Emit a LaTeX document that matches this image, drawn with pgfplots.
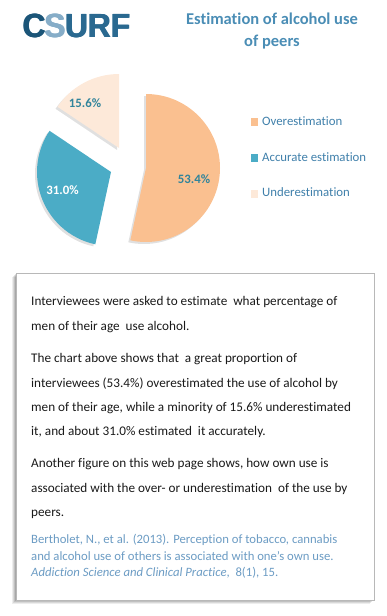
\documentclass[border=0pt]{standalone}
\usepackage{pgfplots}
\pgfplotsset{compat=1.18}
\usepackage{fontspec}
\setmainfont{Carlito}[Ligatures={NoCommon}]
\newfontfamily\logofont{Liberation Sans}
\definecolor{over}{HTML}{FAC090}
\definecolor{acc}{HTML}{4BACC6}
\definecolor{under}{HTML}{FDE9D9}
\definecolor{titlec}{HTML}{4A8DB5}
\definecolor{legc}{HTML}{3F7FAA}
\definecolor{labc}{HTML}{31849B}
\definecolor{citec}{HTML}{6C9CC4}
\definecolor{txt}{HTML}{1A1A1A}
\definecolor{logoA}{HTML}{1B5578}
\definecolor{logoS}{HTML}{86ADC8}
\definecolor{logoB}{HTML}{2A6990}
% pie values (percent)
\def\vOver{53.4}\def\vAcc{31.0}\def\vUnder{15.6}
\pgfmathsetmacro\aA{90-3.6*\vOver}
\pgfmathsetmacro\aB{\aA-3.6*\vAcc}
\pgfmathsetmacro\aC{\aB-3.6*\vUnder}
\newcommand\pieslice[5]{%
  \fill[black,opacity=0.12] ([shift={(-2pt,-2pt)}]axis cs:#1,#2) -- ++(#3:74pt) arc[start angle=#3, end angle=#4, radius=74pt] -- cycle;
  \fill[#5] (axis cs:#1,#2) -- ++(#3:74pt) arc[start angle=#3, end angle=#4, radius=74pt] -- cycle;}
\newcommand\bodyline[2]{\node[anchor=base west,inner sep=0pt,text=txt,font=\fontsize{13.2}{16}\selectfont] at (axis cs:31,#1) {#2};}
\newcommand\citeline[2]{\node[anchor=base west,inner sep=0pt,text=citec,font=\fontsize{12.7}{15}\selectfont] at (axis cs:31,#1) {#2};}
\newcommand\logo[1]{\node[anchor=base west,inner sep=0pt,font=\logofont\bfseries\fontsize{33.5}{34}\selectfont] at (axis cs:#1,37) {\scalebox{0.95}[1]{\textcolor{logoA}{C}\kern-1.5pt\textcolor{logoS}{S}\kern-0.5pt\textcolor{logoB}{URF}}};}
\begin{document}
\begin{tikzpicture}
\begin{axis}[scale only axis, width=387pt, height=616pt,
  xmin=0, xmax=387, ymin=0, ymax=616, y dir=reverse,
  hide axis, clip=false]
\path (axis cs:0,0) rectangle (axis cs:387,616);
% logo
\logo{22}\logo{22.5}\logo{23}
% title
\node[anchor=base,inner sep=0pt,text=titlec,font=\bfseries\fontsize{16.5}{20}\selectfont] at (axis cs:272,24) {Estimation of alcohol use};
\node[anchor=base,inner sep=0pt,text=titlec,font=\bfseries\fontsize{16.5}{20}\selectfont] at (axis cs:272,46.5) {of peers};
% pie
\pieslice{146}{168}{90}{\aA}{over}
\pieslice{111}{172}{\aA}{\aB}{acc}
\pieslice{119}{148}{\aB}{\aC}{under}
\node[text=labc,font=\bfseries\fontsize{12.8}{14}\selectfont] at (axis cs:194,179) {53.4\%};
\node[text=white,font=\bfseries\fontsize{12.8}{14}\selectfont] at (axis cs:62.5,190) {31.0\%};
\node[text=labc,font=\bfseries\fontsize{12.8}{14}\selectfont] at (axis cs:85,103) {15.6\%};
% legend
\fill[over] (axis cs:251,118) rectangle (axis cs:258,126);
\fill[acc] (axis cs:251,154) rectangle (axis cs:258,162);
\fill[under] (axis cs:251,190) rectangle (axis cs:258,198);
\node[anchor=base west,inner sep=0pt,text=legc,font=\fontsize{12.8}{14}\selectfont] at (axis cs:262,125.5) {Overestimation};
\node[anchor=base west,inner sep=0pt,text=legc,font=\fontsize{12.8}{14}\selectfont] at (axis cs:262,161) {Accurate estimation};
\node[anchor=base west,inner sep=0pt,text=legc,font=\fontsize{12.8}{14}\selectfont] at (axis cs:262,196.5) {Underestimation};
% text box with shadow
\fill[black,opacity=0.07] (axis cs:12,277) rectangle (axis cs:370,604);
\fill[black,opacity=0.09] (axis cs:13,276) rectangle (axis cs:371,603);
\fill[black,opacity=0.11] (axis cs:14,275) rectangle (axis cs:372,602);
\fill[black,opacity=0.13] (axis cs:15,274) rectangle (axis cs:373,601);
\draw[fill=white,draw=black!28,line width=0.8pt] (axis cs:16,273) rectangle (axis cs:374,600);
\bodyline{305.5}{Interviewees were asked to estimate\ \ what percentage of}
\bodyline{330}{men of their age\ \ use alcohol.}
\bodyline{362}{The chart above shows that\ \ a great proportion of}
\bodyline{387}{interviewees (53.4\%) overestimated the use of alcohol by}
\bodyline{411}{men of their age, while a minority of 15.6\% underestimated}
\bodyline{435}{it, and about 31.0\% estimated\ \ it accurately.}
\bodyline{467.5}{Another figure on this web page shows, how own use is}
\bodyline{492}{associated with the over- or underestimation\ \ of the use by}
\bodyline{516}{peers.}
\citeline{543}{Bertholet, N., et al. (2013). Perception of tobacco, cannabis}
\citeline{560}{and alcohol use of others is associated with one’s own use.}
\citeline{576}{\textit{Addiction Science and Clinical Practice},\ \ 8(1), 15.}
\end{axis}
\end{tikzpicture}
\end{document}
